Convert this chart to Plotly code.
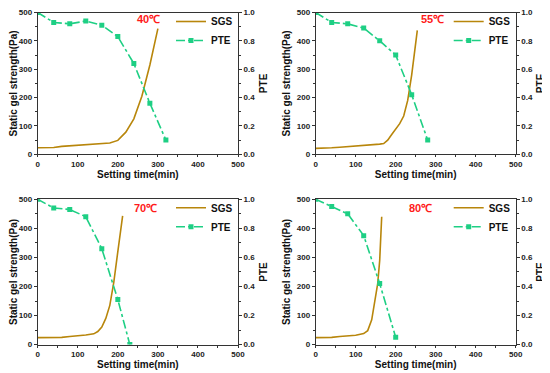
import plotly.graph_objects as go

# ---------------- data ----------------
temps = ["40℃", "55℃", "70℃", "80℃"]

sgs_t_40 = [0, 20, 40, 60, 80, 100, 120, 140, 160, 180, 200, 220, 240, 260, 280, 300]
sgs_v_40 = [23, 23, 24, 28, 30, 31, 33, 35, 37, 40, 49, 78, 125, 205, 315, 443]
pte_t_40 = [0, 40, 80, 120, 160, 200, 240, 280, 320]
pte_v_40 = [1.0, 0.93, 0.92, 0.94, 0.91, 0.83, 0.64, 0.36, 0.10]

sgs_t_55 = [0, 20, 40, 60, 80, 100, 120, 140, 160, 170, 180, 190, 200, 210, 220, 230, 240, 250, 254]
sgs_v_55 = [21, 21, 23, 25, 27, 28, 31, 34, 36, 38, 50, 70, 90, 108, 135, 190, 280, 390, 437]
pte_t_55 = [0, 40, 80, 120, 160, 200, 240, 280]
pte_v_55 = [1.0, 0.93, 0.92, 0.89, 0.80, 0.70, 0.42, 0.10]

sgs_t_70 = [0, 20, 40, 60, 80, 100, 120, 140, 150, 160, 170, 180, 190, 200, 212]
sgs_v_70 = [24, 24, 24, 25, 28, 30, 33, 37, 45, 60, 90, 135, 215, 320, 443]
pte_t_70 = [0, 40, 80, 120, 160, 200, 230]
pte_v_70 = [1.0, 0.94, 0.93, 0.88, 0.66, 0.31, 0.0]

sgs_t_80 = [0, 20, 40, 60, 80, 100, 120, 130, 140, 150, 155, 160, 165]
sgs_v_80 = [24, 24, 25, 28, 30, 32, 38, 48, 85, 160, 210, 290, 440]
pte_t_80 = [0, 40, 80, 120, 160, 200]
pte_v_80 = [1.0, 0.95, 0.90, 0.75, 0.42, 0.05]

panels = [
    (sgs_t_40, sgs_v_40, pte_t_40, pte_v_40, 276, 476),
    (sgs_t_55, sgs_v_55, pte_t_55, pte_v_55, 291, 476),
    (sgs_t_70, sgs_v_70, pte_t_70, pte_v_70, 268, 471),
    (sgs_t_80, sgs_v_80, pte_t_80, pte_v_80, 263, 471),
]

# the page body has an 8px margin, so the figure starts at (8, 8) in the window
OFF = 8
W, H = 550 - OFF, 373 - OFF
# panel pixel boxes in window coordinates (left, right, top, bottom)
boxes = [
    (37.7, 238.0, 12.5, 154.3),
    (315.7, 515.7, 12.5, 154.3),
    (37.7, 238.0, 199.3, 344.6),
    (315.7, 515.7, 199.3, 344.6),
]
legend_tops = [7.0, 7.0, 193.3, 193.3]  # window px

SGS_COLOR = "#B8860B"
PTE_COLOR = "#1ECF84"
FONT = "Arial, Liberation Sans, sans-serif"

fig = go.Figure()
layout = dict(
    width=W, height=H,
    margin=dict(l=0, r=0, t=0, b=0, autoexpand=False),
    paper_bgcolor="white", plot_bgcolor="white",
    font=dict(family=FONT, color="#222"),
    annotations=[],
)

for i, (st, sv, pt, pv, ax_, ay_) in enumerate(panels):
    l, r, t, b = [v - OFF for v in boxes[i]]
    xd = [l / W, r / W]
    yd = [1 - b / H, 1 - t / H]
    xn = i + 1
    yp = 2 * i + 1
    ys = 2 * i + 2
    xname = "x" if xn == 1 else f"x{xn}"
    ypname = "y" if yp == 1 else f"y{yp}"
    ysname = f"y{ys}"
    leg = "legend" if i == 0 else f"legend{i+1}"

    fig.add_trace(go.Scatter(
        x=st, y=sv, mode="lines", name="SGS",
        line=dict(color=SGS_COLOR, width=1.6),
        xaxis=xname, yaxis=ypname, legend=leg,
    ))
    fig.add_trace(go.Scatter(
        x=pt, y=pv, mode="lines+markers", name="PTE",
        line=dict(color=PTE_COLOR, width=1.6, dash="dashdot"),
        marker=dict(symbol="square", size=5, color=PTE_COLOR),
        xaxis=xname, yaxis=ysname, legend=leg,
    ))

    tickfont = dict(family=FONT, size=8, color="#222", weight="bold")
    titlefont = dict(family=FONT, size=10, color="#111", weight="bold")

    xkey = "xaxis" if xn == 1 else f"xaxis{xn}"
    ypkey = "yaxis" if yp == 1 else f"yaxis{yp}"
    yskey = f"yaxis{ys}"

    layout[xkey] = dict(
        domain=xd, anchor=ypname, range=[0, 500], dtick=100, automargin=False,
        showgrid=False, zeroline=False, ticklabeloverflow="allow",
        showline=True, linecolor="#333", linewidth=1, mirror=True,
        ticks="outside", ticklen=2, tickwidth=1, tickcolor="#333",
        minor=dict(ticks="outside", ticklen=2, dtick=50, tickcolor="#333"),
        tickfont=tickfont,
        title=dict(text="Setting time(min)", font=titlefont, standoff=2),
    )
    layout[ypkey] = dict(
        domain=yd, anchor=xname, range=[0, 500], dtick=100, automargin=False,
        showgrid=False, zeroline=False, ticklabeloverflow="allow",
        showline=True, linecolor="#333", linewidth=1,
        ticks="outside", ticklen=3, tickwidth=1, tickcolor="#333",
        minor=dict(ticks="outside", ticklen=2, dtick=50, tickcolor="#333"),
        tickfont=tickfont,
        title=dict(text="Static gel strength(Pa)", font=titlefont, standoff=4),
    )
    layout[yskey] = dict(
        domain=yd, anchor=xname, overlaying=ypname, side="right",
        range=[0, 1], dtick=0.2, tickformat=".1f", automargin=False,
        showgrid=False, zeroline=False, ticklabeloverflow="allow",
        showline=True, linecolor="#333", linewidth=1,
        ticks="outside", ticklen=3, tickwidth=1, tickcolor="#333",
        minor=dict(ticks="outside", ticklen=2, dtick=0.1, tickcolor="#333"),
        tickfont=tickfont,
        title=dict(text="PTE", font=titlefont, standoff=5),
    )
    layout[leg] = dict(
        x=(r - 67) / W, y=1 - (legend_tops[i] - OFF) / H,
        xanchor="left", yanchor="top",
        bgcolor="rgba(0,0,0,0)", borderwidth=0,
        font=dict(family=FONT, size=10, color="#111", weight="bold"),
        itemwidth=30, tracegroupgap=0,
    )
    layout["annotations"].append(dict(
        x=ax_, y=ay_, xref=xname, yref=ypname, text=temps[i], showarrow=False,
        font=dict(family=FONT, size=11, color="#FF1A1A", weight="bold"),
    ))

fig.update_layout(**layout)
fig.write_html("out.html")
